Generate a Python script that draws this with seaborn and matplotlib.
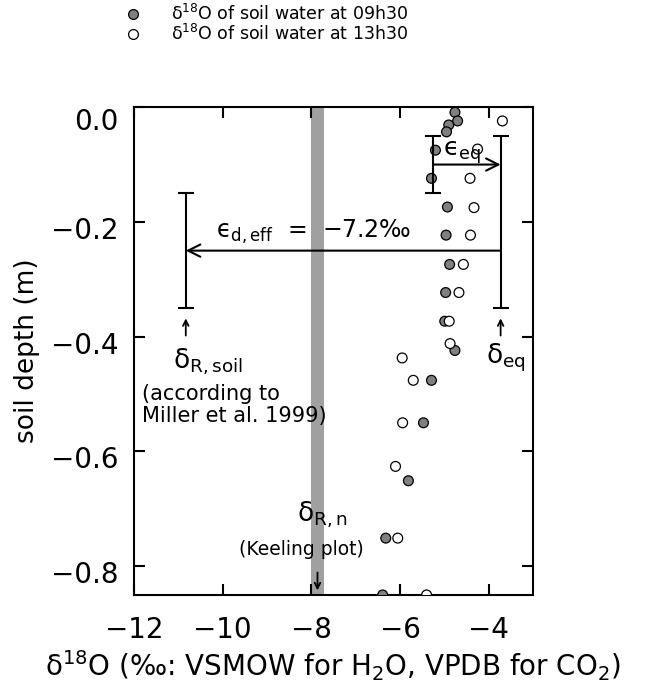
import matplotlib
matplotlib.use("Agg")
import matplotlib.pyplot as plt
import matplotlib.transforms as mtransforms
import seaborn as sns
import pandas as pd

# depth (m) and d18O (permil) of soil water
depth_0930 = [-0.009, -0.024, -0.031, -0.043, -0.075, -0.124, -0.174, -0.223,
              -0.274, -0.323, -0.373, -0.424, -0.476, -0.550, -0.651, -0.751, -0.850]
d18o_0930 = [-4.76, -4.70, -4.90, -4.95, -5.20, -5.29, -4.93, -4.96,
             -4.88, -4.97, -4.99, -4.76, -5.29, -5.47, -5.81, -6.32, -6.39]
depth_1330 = [-0.024, -0.073, -0.124, -0.175, -0.223, -0.274, -0.323, -0.373,
              -0.412, -0.437, -0.476, -0.550, -0.626, -0.751, -0.850]
d18o_1330 = [-3.69, -4.25, -4.42, -4.33, -4.41, -4.57, -4.67, -4.89,
             -4.87, -5.95, -5.70, -5.94, -6.10, -6.05, -5.40]

# isotope end members
delta_r_soil = -10.83   # Miller et al. 1999
delta_eq = -3.73
delta_morning = -5.25
keeling_band = (-8.0, -7.72)

x_ticks = [-12, -10, -8, -6, -4]
y_ticks = [0.0, -0.2, -0.4, -0.6, -0.8]

df = pd.concat([
    pd.DataFrame({"d18O": d18o_0930, "depth": depth_0930, "time": "09h30"}),
    pd.DataFrame({"d18O": d18o_1330, "depth": depth_1330, "time": "13h30"}),
])

sns.set_style("ticks")
plt.rcParams["font.family"] = ["DejaVu Sans"]
plt.rcParams["mathtext.fontset"] = "dejavusans"
plt.rcParams["mathtext.default"] = "regular"
for k in ["text.color", "axes.labelcolor", "xtick.color", "ytick.color", "axes.edgecolor"]:
    plt.rcParams[k] = "black"

fig = plt.figure(figsize=(6.5, 6.87), dpi=100)
ax = fig.add_axes([0.206, 0.134, 0.614, 0.710])

# Keeling plot band
ax.axvspan(*keeling_band, color="#a0a0a0", lw=0, zorder=0)

sns.scatterplot(data=df, x="d18O", y="depth", hue="time",
                palette={"09h30": "#808080", "13h30": "white"},
                edgecolor="black", linewidth=0.9, s=50, ax=ax, zorder=3)

# effective diffusion fractionation bars + arrows
eb = dict(fmt="none", ecolor="black", elinewidth=1.5, capsize=6, capthick=1.5, zorder=4)
ax.errorbar([delta_r_soil], [-0.25], yerr=[[0.1], [0.1]], **eb)
ax.errorbar([delta_eq], [-0.20], yerr=[[0.15], [0.15]], **eb)
ax.errorbar([delta_morning], [-0.10], yerr=[[0.05], [0.05]], **eb)

arr = dict(arrowstyle="->", lw=1.5, color="black", mutation_scale=22,
           shrinkA=0, shrinkB=0)
ax.annotate("", xy=(delta_r_soil, -0.25), xytext=(delta_eq, -0.25), arrowprops=arr, zorder=4)
ax.annotate("", xy=(delta_eq, -0.10), xytext=(delta_morning, -0.10), arrowprops=arr, zorder=4)

small = dict(arrowstyle="->", lw=1.3, color="black", mutation_scale=10,
             shrinkA=0, shrinkB=0)
ax.annotate("", xy=(delta_r_soil, -0.368), xytext=(delta_r_soil, -0.398), arrowprops=small)
ax.annotate("", xy=(delta_eq, -0.368), xytext=(delta_eq, -0.398), arrowprops=small)
ax.annotate("", xy=(-7.86, -0.842), xytext=(-7.86, -0.811), arrowprops=small)

ax.text(-7.96, -0.218, "ϵ$_{d,eff}$  =  \u22127.2‰", fontsize=17,
        ha="center", va="center", zorder=5)
ax.text(-4.60, -0.079, "ϵ$_{eq}$", fontsize=18, ha="center", va="center", zorder=5)
ax.text(-3.62, -0.436, "δ$_{eq}$", fontsize=19, ha="center", va="center")
ax.text(-10.33, -0.443, "δ$_{R,soil}$", fontsize=19, ha="center", va="center")
ax.text(-11.82, -0.519, "(according to\nMiller et al. 1999)", fontsize=15,
        ha="left", va="center", linespacing=1.1)
ax.text(-7.74, -0.710, "δ$_{R,n}$", fontsize=19, ha="center", va="center")
ax.text(-8.23, -0.771, "(Keeling plot)", fontsize=13.5, ha="center", va="center")

ax.set_xlim(-12, -3)
ax.set_ylim(-0.85, 0.0)
ax.set_xticks(x_ticks)
ax.set_yticks(y_ticks)
ax.set_yticklabels([f"{v:.1f}".replace("-", "\u2212") for v in y_ticks])
ax.tick_params(direction="in", length=8, width=1.5, labelsize=20,
               top=True, right=True)
ax.tick_params(axis="x", pad=15)
ax.tick_params(axis="y", pad=11)
for sp in ax.spines.values():
    sp.set_linewidth(1.5)

# y tick labels sit a little below their ticks in the original
for i, lab in enumerate(ax.get_yticklabels()):
    dy = -12 if i == 0 else -6
    lab.set_transform(lab.get_transform() +
                      mtransforms.ScaledTranslation(0, dy / 100, fig.dpi_scale_trans))

ax.set_xlabel("δ$^{18}$O (‰: VSMOW for H$_2$O, VPDB for CO$_2$)", fontsize=20, labelpad=3)
ax.set_ylabel("soil depth (m)", fontsize=19, labelpad=8)

handles, _ = ax.get_legend_handles_labels()
ax.legend_.remove()
fig.legend(handles, ["δ$^{18}$O of soil water at 09h30",
                     "δ$^{18}$O of soil water at 13h30"],
           loc="upper left", bbox_to_anchor=(0.172, 1.012), frameon=False,
           fontsize=12.5, handletextpad=1.7, labelspacing=0.0, handlelength=1.0,
           markerscale=1.0, borderaxespad=0.3)

fig.savefig("out.png", dpi=100)
